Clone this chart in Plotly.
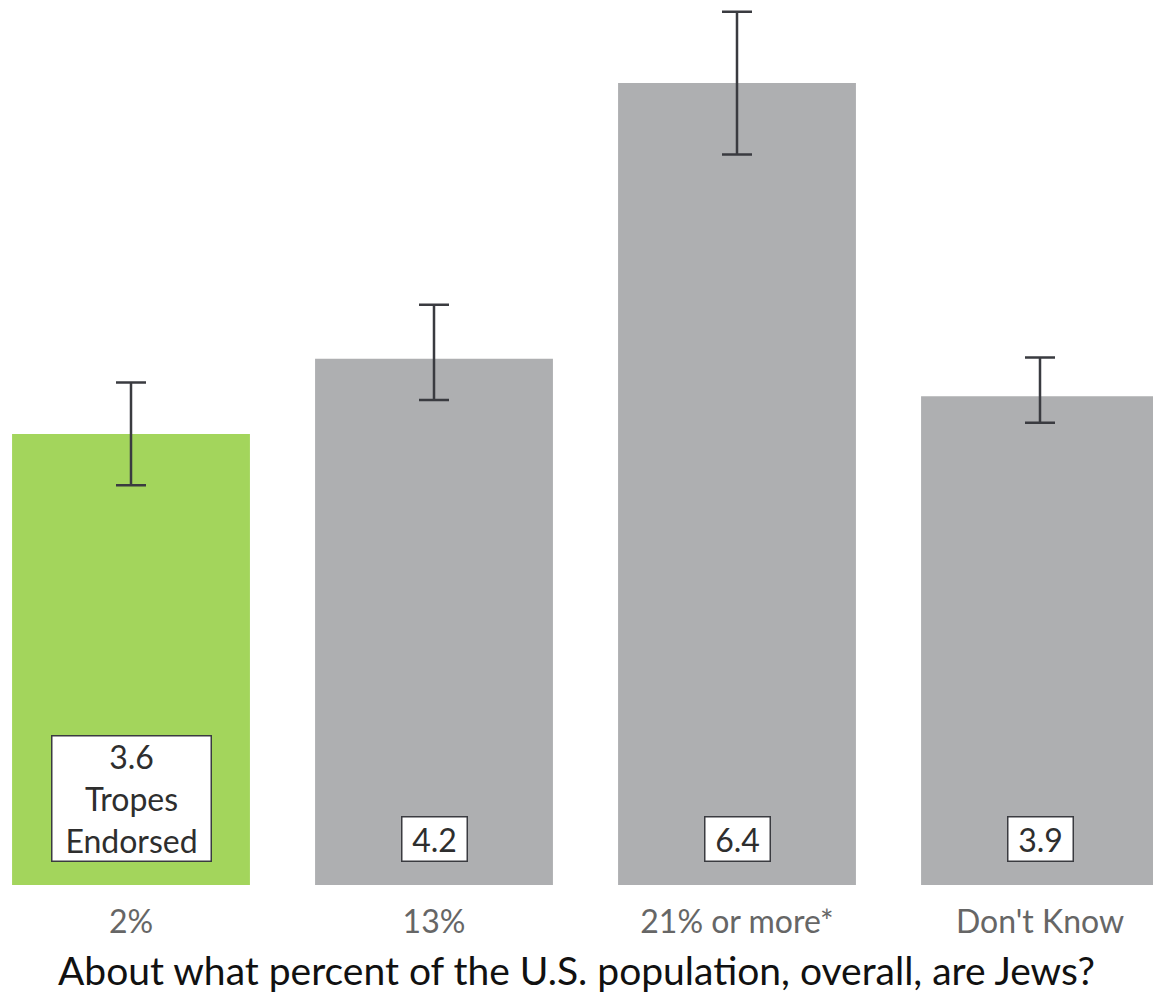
import plotly.graph_objects as go

categories = ["2%", "13%", "21% or more*", "Don't Know"]
values = [3.6, 4.2, 6.4, 3.9]
err_plus = [0.41, 0.43, 0.57, 0.31]
err_minus = [0.41, 0.33, 0.57, 0.21]
box_labels = ["3.6<br>Tropes<br>Endorsed", "4.2", "6.4", "3.9"]
bar_colors = ["#a3d55c", "#aeafb1", "#aeafb1", "#aeafb1"]

W, H = 1153, 997
cat_px = 303.0
first_center = 131.0
bottom_px = 885.0
unit_px = 125.3

fig = go.Figure()
fig.add_trace(go.Bar(
    x=list(range(len(categories))),
    y=values,
    width=0.785,
    marker=dict(color=bar_colors, line=dict(width=0)),
    error_y=dict(type="data", symmetric=False, array=err_plus, arrayminus=err_minus,
                 color="#3a3b40", thickness=2.5, width=15),
    hoverinfo="skip",
))

for i, lab in enumerate(box_labels):
    multi = "<br>" in lab
    fig.add_annotation(
        x=i, y=0, xref="x", yref="y", yanchor="bottom", yshift=23,
        text=lab, showarrow=False,
        font=dict(family="Lato", size=32, color="#2e2e2e"),
        bgcolor="white", bordercolor="#3a3b40", borderwidth=1.5, borderpad=0,
        width=158 if multi else 64, height=124 if multi else 43,
        align="center", valign="middle",
    )

fig.update_layout(
    width=W, height=H,
    margin=dict(l=0, r=0, t=0, b=H - bottom_px),
    paper_bgcolor="white", plot_bgcolor="white",
    showlegend=False,
    font=dict(family="Lato"),
    xaxis=dict(
        range=[-first_center / cat_px, (W - first_center) / cat_px],
        tickmode="array", tickvals=list(range(len(categories))), ticktext=categories,
        tickfont=dict(family="Lato", size=32, color="#666666"),
        showgrid=False, zeroline=False, showline=False, ticks="",
        ticklabelstandoff=15,
        title=dict(text="About what percent of the U.S. population, overall, are Jews?",
                   font=dict(family="Lato", size=39, color="#111111"), standoff=18),
    ),
    yaxis=dict(range=[0, bottom_px / unit_px], visible=False, showgrid=False, zeroline=False),
)

fig.write_html("out.html",
               config={"displayModeBar": False},
               post_script="document.body.style.margin='0';document.body.style.overflow='hidden';")
